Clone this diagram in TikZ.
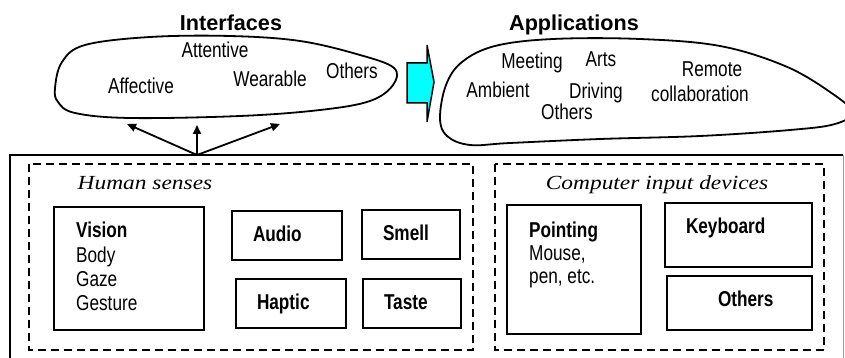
\documentclass[tikz,border=0pt]{standalone}
\usepackage{fontspec}
\setmainfont{Liberation Sans}[FakeStretch=0.8]
\newfontfamily\headfont{Liberation Sans}
\newfontfamily\groupfont{Liberation Serif}[FakeStretch=1.17]
\usetikzlibrary{arrows.meta}
\definecolor{arrowcyan}{RGB}{0,255,255}

\begin{document}
\begin{tikzpicture}[x=1pt, y=-1pt,
  txt/.style={font=\fontsize{21.5}{24}\selectfont, inner sep=0pt},
  head/.style={font=\headfont\fontsize{21.6}{24}\selectfont\bfseries, inner sep=0pt},
  group/.style={font=\groupfont\fontsize{20}{24}\selectfont\itshape, inner sep=0pt},
  dev/.style={draw, line width=1.6pt, font=\fontsize{21.5}{24}\selectfont\bfseries,
    inner xsep=21pt, inner ysep=0pt, text height=15.5pt, text depth=4.5pt, align=left},
  zone/.style={draw, dash pattern=on 8pt off 5pt, line width=1.5pt},
  blob/.style={draw, line width=1.8pt},
  up/.style={-{Triangle[length=9pt,width=8pt]}, line width=1.8pt}]
  \useasboundingbox (0,0) rectangle (845,358);
  \clip (0,0) rectangle (845,358);

  % interfaces
  \node[head] (ifc) at (231,23) {Interfaces};
  \draw[blob] plot[smooth cycle, tension=0.6] coordinates {(55,88) (62,62) (85,45)
    (150,37) (230,36) (300,41) (360,55) (394,68) (393,85) (370,101) (320,110)
    (240,116) (130,118) (75,113) (58,102)};
  \node[txt] (att) at (215,50) {Attentive};
  \node[txt] (aff) at (141,86) {Affective};
  \node[txt] (wear) at (270,79) {Wearable};
  \node[txt] (oth1) at (352,71) {Others};

  \draw[line width=1.5pt, fill=arrowcyan] (407,63) -- (427,63) -- (427,45) -- (434,82)
    -- (427,122) -- (427,103) -- (407,103) -- cycle;

  % applications
  \node[head] (app) at (574,25) {Applications};
  \draw[blob] plot[smooth cycle, tension=0.6] coordinates {(440,118) (446,85)
    (462,62) (495,46) (553,39) (640,39) (720,46) (785,66) (830,92) (852,112)
    (835,124) (790,130) (700,136) (600,139) (510,143) (470,145) (447,136)};
  \node[txt] (meet) at (532,63) {Meeting};
  \node[txt] (arts) at (601,59) {Arts};
  \node[txt] (amb) at (498,90) {Ambient};
  \node[txt] (drv) at (596,93) {Driving};
  \node[txt] (oth2) at (567,112) {Others};
  \node[txt] (rem) at (712,69) {Remote};
  \node[txt] (coll) at (700,94) {collaboration};

  % base
  \draw[line width=1.5pt] (10,365) -- (10,155) -- (843,155);
  \draw[line width=0.8pt, black!40] (843,155) -- (843,365);
  \coordinate (src) at (197,155);
  \coordinate (toL) at (127,124);
  \coordinate (toM) at (197,125);
  \coordinate (toR) at (280,124);
  \path[up] (src) edge (toL) edge (toM) edge (toR);

  \draw[zone] (29,164) rectangle (473,350);
  \node[group] (hs) at (145,183) {Human senses};

  \node[draw, line width=1.6pt, minimum width=150pt, minimum height=123pt] (vis) at (129,268.5) {};
  \node[txt, anchor=north west, align=left, font=\fontsize{21.5}{24.4}\selectfont] (vist) at (76,222)
    {\textbf{Vision}\\Body\\Gaze\\Gesture};
  \node[dev, text width=68pt, minimum height=49pt] (aud) at (287,235.5) {Audio};
  \node[dev, text width=56pt, minimum height=49pt] (sml) at (411,234.5) {Smell};
  \node[dev, text width=68pt, minimum height=49pt] (hap) at (291,303.5) {Haptic};
  \node[dev, text width=56pt, minimum height=49pt] (tst) at (412,303.5) {Taste};

  \draw[zone] (495,164) rectangle (824,350);
  \node[group] (cid) at (657,185) {Computer input devices};

  \node[draw, line width=1.6pt, minimum width=134pt, minimum height=129pt] (pnt) at (574,269.5) {};
  \node[txt, anchor=north west, align=left, font=\fontsize{21.5}{23}\selectfont] (pntt) at (529,222)
    {\textbf{Pointing}\\Mouse,\\pen, etc.};
  \node[dev, text width=105pt, minimum height=64pt, text depth=17.7pt] (kbd) at (738.5,235) {Keyboard};
  \node[dev, text width=103pt, minimum height=54pt, text depth=8.3pt] (oth3) at (739.5,303) {\hspace*{30pt}Others};

\end{tikzpicture}
\end{document}
